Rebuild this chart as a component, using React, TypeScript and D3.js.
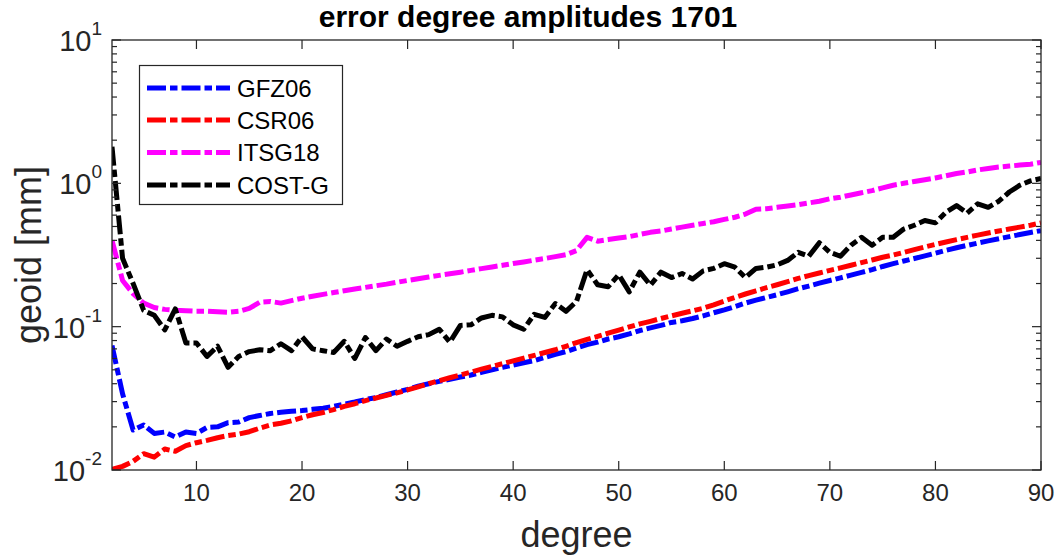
import React from "react";
import * as d3 from "d3";

const degrees: number[] = d3.range(2, 91);

const gfz06: number[] = [
  0.074, 0.034, 0.019, 0.0206, 0.018, 0.0184, 0.017, 0.0184, 0.018, 0.0198,
  0.02, 0.0214, 0.0216, 0.0232, 0.024, 0.0248, 0.0253, 0.0257, 0.026, 0.0265,
  0.027, 0.0278, 0.0288, 0.0298, 0.031, 0.032, 0.0335, 0.035, 0.0365, 0.0385,
  0.04, 0.0415, 0.043, 0.0445, 0.046, 0.048, 0.05, 0.052, 0.054, 0.056,
  0.058, 0.061, 0.064, 0.067, 0.071, 0.075, 0.078, 0.082, 0.085, 0.089,
  0.094, 0.098, 0.102, 0.107, 0.11, 0.114, 0.119, 0.125, 0.131, 0.138,
  0.146, 0.153, 0.16, 0.167, 0.175, 0.184, 0.192, 0.201, 0.21, 0.219,
  0.229, 0.239, 0.25, 0.263, 0.275, 0.287, 0.299, 0.312, 0.326, 0.341,
  0.355, 0.369, 0.383, 0.397, 0.411, 0.425, 0.439, 0.454, 0.468,
];

const csr06: number[] = [
  0.0101, 0.0106, 0.0115, 0.013, 0.0123, 0.014, 0.0135, 0.0148, 0.0155, 0.0161,
  0.0168, 0.0174, 0.0178, 0.0185, 0.0196, 0.0206, 0.0212, 0.022, 0.0232, 0.0243,
  0.0252, 0.0264, 0.0278, 0.029, 0.0305, 0.0318, 0.0332, 0.0345, 0.0362, 0.038,
  0.04, 0.042, 0.044, 0.046, 0.0482, 0.0505, 0.0528, 0.0552, 0.0577, 0.0603,
  0.063, 0.066, 0.069, 0.073, 0.0775, 0.0815, 0.0855, 0.09, 0.0945, 0.0995,
  0.1045, 0.109, 0.114, 0.119, 0.124, 0.129, 0.1345, 0.142, 0.151, 0.16,
  0.169, 0.178, 0.187, 0.196, 0.206, 0.217, 0.227, 0.237, 0.247, 0.257,
  0.268, 0.28, 0.292, 0.305, 0.316, 0.33, 0.345, 0.36, 0.375, 0.39,
  0.405, 0.42, 0.435, 0.45, 0.465, 0.48, 0.495, 0.51, 0.53,
];

const itsg18: number[] = [
  0.4, 0.21, 0.17, 0.146, 0.136, 0.132, 0.13, 0.129, 0.128, 0.128,
  0.127, 0.126, 0.128, 0.134, 0.148, 0.15, 0.146, 0.152, 0.158, 0.163,
  0.168, 0.173, 0.178, 0.183, 0.188, 0.193, 0.198, 0.204, 0.21, 0.216,
  0.222, 0.228, 0.234, 0.24, 0.247, 0.254, 0.261, 0.268, 0.276, 0.283,
  0.291, 0.299, 0.308, 0.318, 0.34, 0.42, 0.395, 0.405, 0.415, 0.425,
  0.44, 0.455, 0.465, 0.48, 0.495, 0.51, 0.525, 0.54, 0.56, 0.58,
  0.61, 0.66, 0.665, 0.68, 0.695, 0.71, 0.73, 0.75, 0.78, 0.8,
  0.83, 0.86, 0.89, 0.93, 0.97, 1.0, 1.03, 1.06, 1.09, 1.13,
  1.17, 1.2, 1.24, 1.27, 1.3, 1.32, 1.34, 1.36, 1.4,
];

const costg: number[] = [
  1.8, 0.3, 0.2, 0.13, 0.12, 0.095, 0.133, 0.077, 0.077, 0.062,
  0.073, 0.052, 0.062, 0.067, 0.069, 0.068, 0.076, 0.068, 0.085, 0.07,
  0.068, 0.066, 0.079, 0.06, 0.084, 0.068, 0.082, 0.073, 0.079, 0.085,
  0.088, 0.096, 0.078, 0.102, 0.103, 0.115, 0.12, 0.117, 0.103, 0.096,
  0.122, 0.116, 0.145, 0.128, 0.15, 0.25, 0.196, 0.19, 0.23, 0.175,
  0.24, 0.195, 0.24, 0.22, 0.235, 0.215, 0.245, 0.255, 0.275, 0.26,
  0.22, 0.255, 0.26, 0.27, 0.29, 0.33, 0.31, 0.385, 0.33, 0.31,
  0.37, 0.42, 0.37, 0.42, 0.42, 0.48, 0.51, 0.55, 0.53, 0.63,
  0.7, 0.62, 0.72, 0.68, 0.75, 0.87, 0.97, 1.04, 1.08,
];

const seriesNames: string[] = ["GFZ06", "CSR06", "ITSG18", "COST-G"];
const seriesColors: string[] = ["#0000ff", "#ff0000", "#ff00ff", "#000000"];
const seriesValues: number[][] = [gfz06, csr06, itsg18, costg];

const xTicks: number[] = [10, 20, 30, 40, 50, 60, 70, 80, 90];
const yExponents: number[] = [-2, -1, 0, 1];

const titleText = "error degree amplitudes 1701";
const xLabel = "degree";
const yLabel = "geoid [mm]";

export default function App() {
  const W = 1056;
  const H = 556;
  const m = { left: 112, right: 1041, top: 40, bottom: 470 };
  const x = d3.scaleLinear().domain([2, 90]).range([m.left, m.right]);
  const y = d3.scaleLog().domain([0.01, 10]).range([m.bottom, m.top]);
  const font = "'Liberation Sans', Arial, Helvetica, sans-serif";
  const axisColor = "#262626";
  const dash = "19,4,7.5,4";
  const lw = 5;

  const minorTicks: number[] = [];
  yExponents.slice(0, -1).forEach((e) => {
    for (let k = 2; k <= 9; k++) minorTicks.push(k * Math.pow(10, e));
  });

  const line = d3
    .line<[number, number]>()
    .x((d) => x(d[0]))
    .y((d) => y(d[1]));

  const legend = { x: 139.5, y: 65.5, w: 203, h: 139, rowY: [88, 120, 152.5, 185] };

  return (
    <svg width={W} height={H} style={{ position: "absolute", left: 0, top: 0 }} fontFamily={font}>
      <rect x={0} y={0} width={W} height={H} fill="#fff" />
      <defs>
        <clipPath id="plotclip">
          <rect x={m.left} y={m.top} width={m.right - m.left} height={m.bottom - m.top} />
        </clipPath>
      </defs>
      <g clipPath="url(#plotclip)">
        {seriesValues.map((vals, i) => (
          <path
            key={seriesNames[i]}
            d={line(degrees.map((d, j) => [d, vals[j]] as [number, number])) || ""}
            fill="none"
            stroke={seriesColors[i]}
            strokeWidth={lw}
            strokeDasharray={dash}
            strokeLinejoin="round"
          />
        ))}
      </g>
      <rect
        x={m.left}
        y={m.top}
        width={m.right - m.left}
        height={m.bottom - m.top}
        fill="none"
        stroke={axisColor}
        strokeWidth={1.3}
      />
      {xTicks.map((t) => (
        <g key={"xt" + t}>
          <line x1={x(t)} x2={x(t)} y1={m.bottom} y2={m.bottom - 9} stroke={axisColor} strokeWidth={1.2} />
          <line x1={x(t)} x2={x(t)} y1={m.top} y2={m.top + 9} stroke={axisColor} strokeWidth={1.2} />
          <text x={x(t)} y={501} textAnchor="middle" fontSize={24} fill="#262626">
            {t}
          </text>
        </g>
      ))}
      {yExponents.map((e) => {
        const v = Math.pow(10, e);
        return (
          <g key={"yt" + e}>
            <line x1={m.left} x2={m.left + 9} y1={y(v)} y2={y(v)} stroke={axisColor} strokeWidth={1.2} />
            <line x1={m.right} x2={m.right - 9} y1={y(v)} y2={y(v)} stroke={axisColor} strokeWidth={1.2} />
            <text x={102} y={y(v) + 11} textAnchor="end" fontSize={29} fill="#262626">
              10
              <tspan dy={-16} fontSize={19}>
                {e < 0 ? "-" + Math.abs(e) : String(e)}
              </tspan>
            </text>
          </g>
        );
      })}
      {minorTicks.map((v, i) => (
        <g key={"ym" + i}>
          <line x1={m.left} x2={m.left + 5} y1={y(v)} y2={y(v)} stroke={axisColor} strokeWidth={1.2} />
          <line x1={m.right} x2={m.right - 5} y1={y(v)} y2={y(v)} stroke={axisColor} strokeWidth={1.2} />
        </g>
      ))}
      <text x={W / 2} y={27} textAnchor="middle" fontSize={30} fontWeight="bold" fill="#000">
        {titleText}
      </text>
      <text x={(m.left + m.right) / 2} y={547} textAnchor="middle" fontSize={36} fill="#262626">
        {xLabel}
      </text>
      <text
        transform={`translate(41, ${(m.top + m.bottom) / 2}) rotate(-90)`}
        textAnchor="middle"
        fontSize={36}
        fill="#262626"
      >
        {yLabel}
      </text>
      <rect x={legend.x} y={legend.y} width={legend.w} height={legend.h} fill="#fff" stroke={axisColor} strokeWidth={1.2} />
      {seriesNames.map((n, i) => (
        <g key={"lg" + n}>
          <line
            x1={147}
            x2={230}
            y1={legend.rowY[i]}
            y2={legend.rowY[i]}
            stroke={seriesColors[i]}
            strokeWidth={lw}
            strokeDasharray={dash}
          />
          <text x={237} y={legend.rowY[i] + 8.5} fontSize={24} fill="#000">
            {n}
          </text>
        </g>
      ))}
    </svg>
  );
}
